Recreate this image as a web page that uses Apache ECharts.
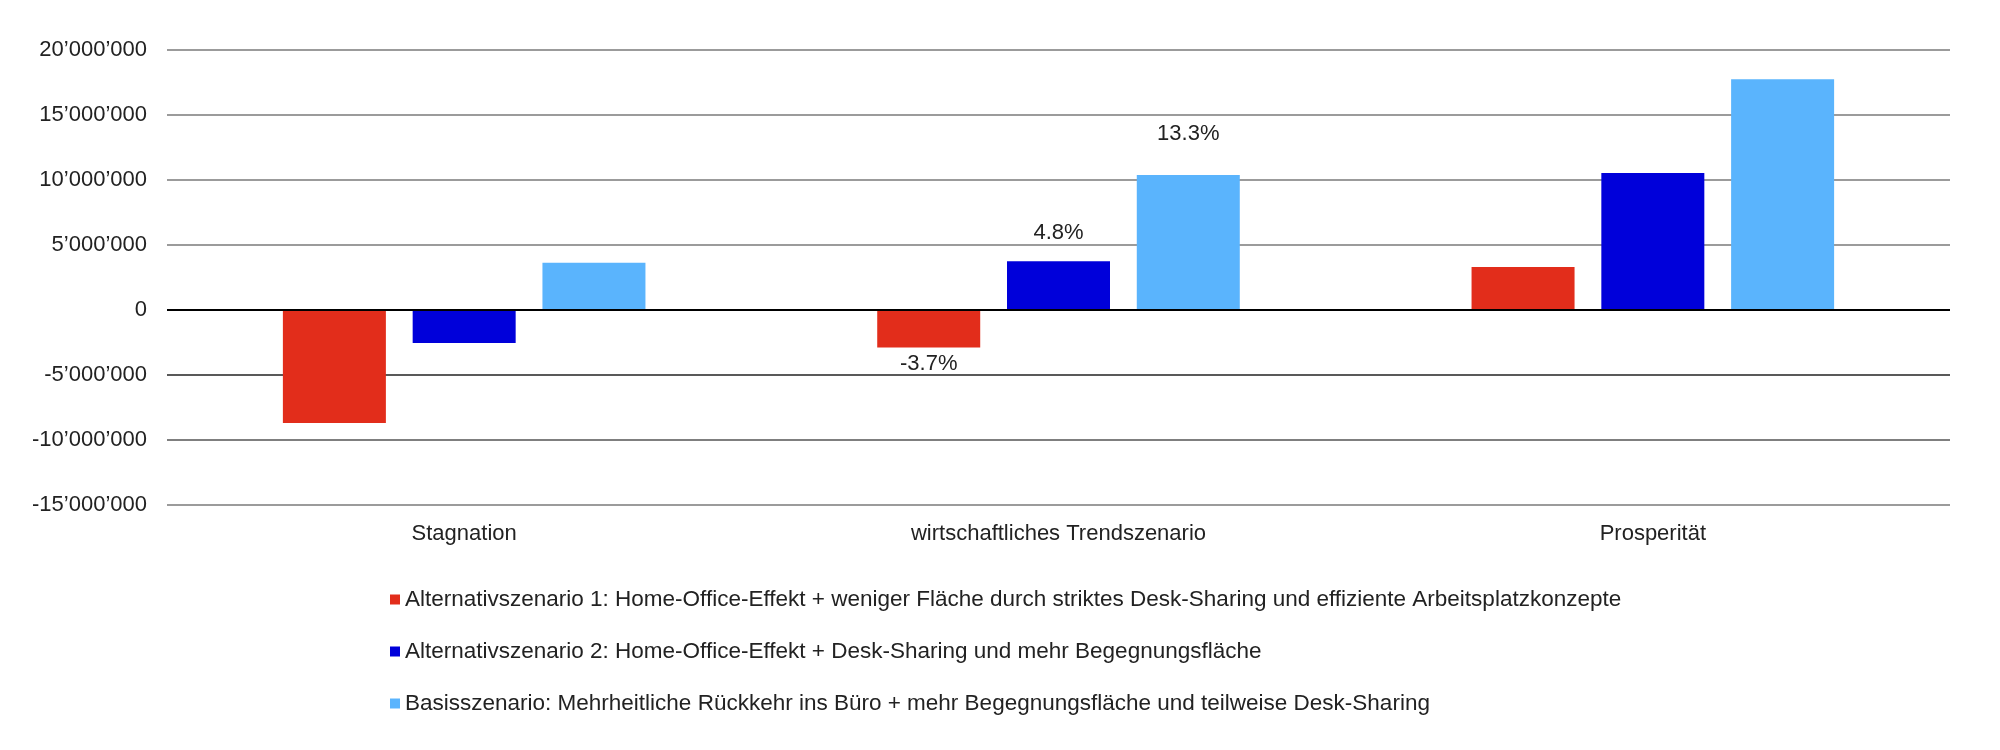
<!DOCTYPE html>
<html>
<head>
<meta charset="utf-8">
<script src="https://cdn.jsdelivr.net/npm/echarts@6/dist/echarts.min.js"></script>
<style>
  html, body { margin: 0; padding: 0; background: #ffffff; }
  #chart { width: 2000px; height: 750px; }
</style>
</head>
<body>
<div id="chart"></div>
<script>
// ---- Data ----
const categories = ['Stagnation', 'wirtschaftliches Trendszenario', 'Prosperität'];
const seriesNames = [
  'Alternativszenario 1: Home-Office-Effekt + weniger Fläche durch striktes Desk-Sharing und effiziente Arbeitsplatzkonzepte',
  'Alternativszenario 2: Home-Office-Effekt + Desk-Sharing und mehr Begegnungsfläche',
  'Basisszenario: Mehrheitliche Rückkehr ins Büro + mehr Begegnungsfläche und teilweise Desk-Sharing'
];
const alt1Values  = [-8700000, -2890000, 3310000];
const alt2Values  = [-2540000, 3750000, 10540000];
const basisValues = [3640000, 10390000, 17750000];
const alt1Labels  = [null, '-3.7%', null];
const alt2Labels  = [null, '4.8%', null];
const basisLabels = [null, '13.3%', null];
const yTickValues = [-15000000, -10000000, -5000000, 0, 5000000, 10000000, 15000000, 20000000];

// ---- Styles ----
const colors = ['#e22d1b', '#0000da', '#5ab4fd'];
const labelDistances = [5, 17, 30];
const FONT = '"Liberation Sans", Arial, sans-serif';

function fmt(v) {
  const neg = v < 0;
  const s = String(Math.abs(v)).replace(/\B(?=(\d{3})+(?!\d))/g, '\u2019');
  return (neg ? '-' : '') + s;
}

function buildData(values, labels, dist) {
  return values.map((v, i) => {
    const item = { value: v };
    if (labels[i]) {
      item.label = {
        show: true,
        position: 'outside',
        distance: dist,
        formatter: labels[i],
        fontSize: 22,
        fontFamily: FONT,
        color: '#222'
      };
    }
    return item;
  });
}

const allValues = [alt1Values, alt2Values, basisValues];
const allLabels = [alt1Labels, alt2Labels, basisLabels];

const series = allValues.map((vals, k) => {
  const s = {
    name: seriesNames[k],
    type: 'bar',
    barWidth: 103,
    barGap: '26%',
    itemStyle: { color: colors[k] },
    data: buildData(vals, allLabels[k], labelDistances[k]),
    z: 3
  };
  if (k === 0) {
    s.markLine = {
      silent: true,
      symbol: 'none',
      label: { show: false },
      lineStyle: { color: '#000', width: 2, type: 'solid' },
      data: [{ yAxis: 0 }],
      z: 5
    };
  }
  return s;
});

const chart = echarts.init(document.getElementById('chart'), null, { renderer: 'canvas' });
chart.setOption({
  animation: false,
  backgroundColor: '#ffffff',
  textStyle: { fontFamily: FONT },
  grid: { left: 167, right: 50, top: 50, bottom: 245, containLabel: false },
  legend: {
    orient: 'vertical',
    left: 385,
    top: 583,
    itemWidth: 10,
    itemHeight: 10,
    itemGap: 29,
    icon: 'rect',
    textStyle: { fontSize: 22.5, color: '#222', fontFamily: FONT, lineHeight: 20 },
    data: seriesNames
  },
  xAxis: {
    type: 'category',
    data: categories,
    axisLine: { show: false, onZero: false },
    axisTick: { show: false },
    axisLabel: { fontSize: 22, color: '#222', margin: 18, fontFamily: FONT },
    splitLine: { show: false }
  },
  yAxis: {
    type: 'value',
    min: yTickValues[0],
    max: yTickValues[yTickValues.length - 1],
    interval: 5000000,
    axisLine: { show: false },
    axisTick: { show: false },
    axisLabel: {
      fontSize: 22, color: '#222', margin: 20, fontFamily: FONT,
      formatter: (v) => fmt(v)
    },
    splitLine: {
      show: true,
      lineStyle: {
        color: ['#7a7a7a', '#555', '#222', '#000', '#7a7a7a', '#7a7a7a', '#7a7a7a', '#7a7a7a'],
        width: 1.5
      }
    }
  },
  series: series
});
</script>
</body>
</html>
